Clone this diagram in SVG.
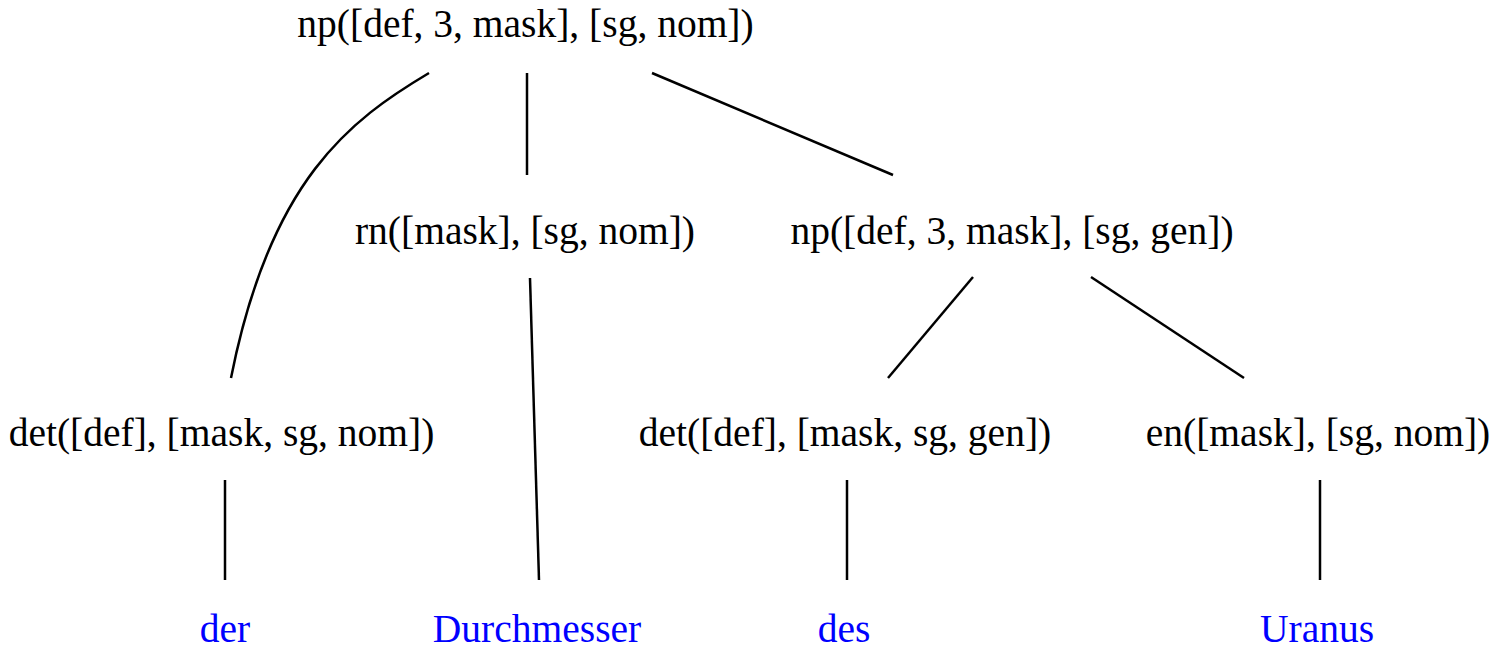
<svg xmlns="http://www.w3.org/2000/svg" width="1495" height="651" viewBox="0 0 1495 651">
<style>
text{font-family:'Liberation Serif','Times New Roman',serif;font-size:39.5px;text-anchor:middle;fill:#000}
text.w{fill:#0000ff}
.e{stroke:#000;stroke-width:2.5;fill:none}
</style>
<rect width="1495" height="651" fill="#fff"/>
<g id="connectors">
<path class="e" d="M429,73 C350,120 270,180 231,378"/>
<line class="e" x1="527" y1="73" x2="527" y2="175"/>
<line class="e" x1="652" y1="73" x2="893" y2="175"/>
<line class="e" x1="530" y1="278" x2="539" y2="580"/>
<line class="e" x1="973" y1="277" x2="888" y2="378"/>
<line class="e" x1="1091" y1="277" x2="1244" y2="378"/>
<line class="e" x1="225" y1="480" x2="225" y2="580"/>
<line class="e" x1="847" y1="480" x2="847" y2="580"/>
<line class="e" x1="1320" y1="480" x2="1320" y2="580"/>
</g>
<g id="n_np1"><text x="525.5" y="37">np([def, 3, mask], [sg, nom])</text></g>
<g id="n_rn"><text x="525" y="244">rn([mask], [sg, nom])</text></g>
<g id="n_np2"><text x="1012" y="244">np([def, 3, mask], [sg, gen])</text></g>
<g id="n_det1"><text x="221.5" y="446">det([def], [mask, sg, nom])</text></g>
<g id="n_det2"><text x="845" y="446">det([def], [mask, sg, gen])</text></g>
<g id="n_en"><text x="1318" y="446">en([mask], [sg, nom])</text></g>
<g id="w_der"><text class="w" x="225" y="642">der</text></g>
<g id="w_durch"><text class="w" x="537" y="642">Durchmesser</text></g>
<g id="w_des"><text class="w" x="844" y="642">des</text></g>
<g id="w_uranus"><text class="w" x="1317" y="642">Uranus</text></g>
</svg>
